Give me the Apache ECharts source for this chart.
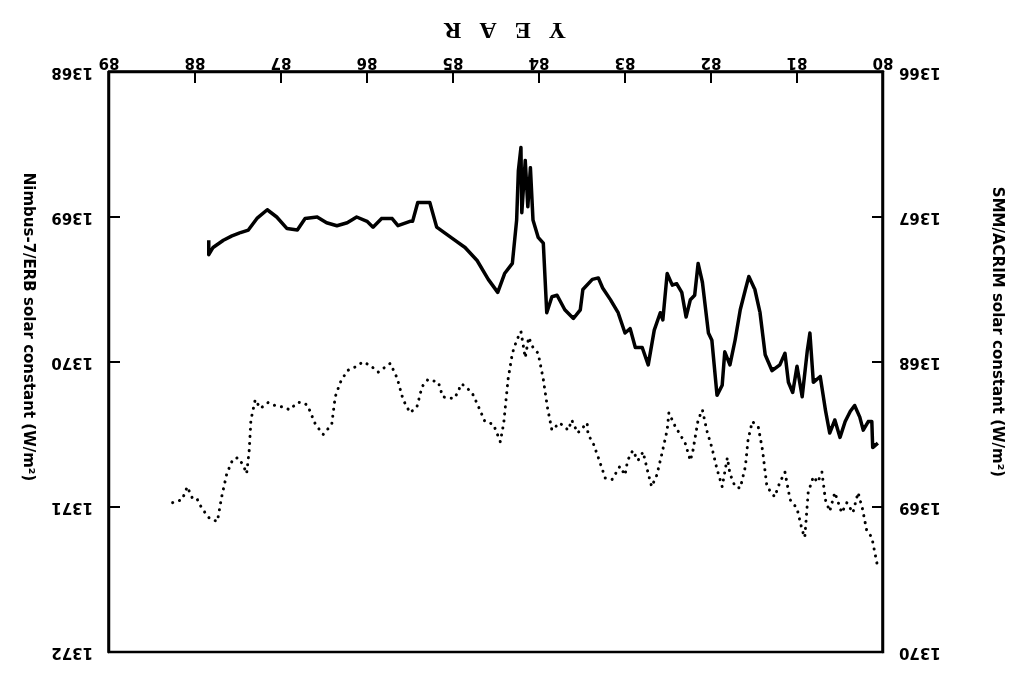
<!DOCTYPE html>
<html>
<head>
<meta charset="utf-8">
<script src="https://cdn.jsdelivr.net/npm/echarts@6/dist/echarts.min.js"></script>
<style>
html,body{margin:0;padding:0;background:#fff;}
#wrap{position:absolute;left:0;top:0;width:1026px;height:677px;transform:rotate(180deg);transform-origin:50% 50%;}
#chart{width:1026px;height:677px;}
</style>
</head>
<body>
<div id="wrap"><div id="chart"></div></div>
<script>
// SMM/ACRIM (solid line, left axis in the un-rotated chart)
const smmYears = [87.84,87.84,87.79,87.67,87.57,87.48,87.38,87.28,87.16,87.05,86.93,86.81,86.72,86.58,86.47,86.35,86.23,86.12,86.00,85.93,85.83,85.71,85.64,85.50,85.47,85.41,85.27,85.19,84.98,84.86,84.72,84.59,84.48,84.40,84.31,84.26,84.24,84.21,84.20,84.16,84.13,84.10,84.07,84.01,83.95,83.91,83.85,83.79,83.70,83.60,83.52,83.49,83.38,83.31,83.26,83.17,83.08,83.00,82.94,82.88,82.80,82.73,82.66,82.59,82.56,82.51,82.45,82.40,82.34,82.29,82.24,82.19,82.15,82.10,82.03,81.99,81.93,81.87,81.84,81.78,81.72,81.66,81.60,81.56,81.49,81.43,81.37,81.29,81.20,81.14,81.10,81.05,81.00,80.94,80.88,80.85,80.81,80.73,80.67,80.62,80.56,80.50,80.44,80.38,80.33,80.27,80.23,80.17,80.13,80.12,80.06];
const smmValues = [1367.16,1367.26,1367.21,1367.16,1367.13,1367.11,1367.09,1367.01,1366.95,1367.00,1367.08,1367.09,1367.01,1367.00,1367.04,1367.06,1367.04,1367.00,1367.03,1367.07,1367.01,1367.01,1367.06,1367.03,1367.03,1366.90,1366.90,1367.07,1367.16,1367.21,1367.30,1367.43,1367.52,1367.39,1367.32,1367.02,1366.68,1366.52,1366.97,1366.61,1366.93,1366.66,1367.02,1367.14,1367.18,1367.66,1367.55,1367.54,1367.64,1367.70,1367.64,1367.50,1367.43,1367.42,1367.49,1367.57,1367.66,1367.80,1367.77,1367.90,1367.90,1368.02,1367.78,1367.66,1367.71,1367.39,1367.47,1367.46,1367.52,1367.69,1367.57,1367.54,1367.32,1367.45,1367.80,1367.85,1368.23,1368.16,1367.93,1368.02,1367.85,1367.64,1367.50,1367.41,1367.50,1367.66,1367.95,1368.06,1368.02,1367.94,1368.14,1368.21,1368.03,1368.24,1367.92,1367.80,1368.14,1368.10,1368.33,1368.49,1368.40,1368.52,1368.41,1368.34,1368.30,1368.38,1368.47,1368.41,1368.41,1368.59,1368.56];

// Nimbus-7/ERB (dotted line, right axis in the un-rotated chart)
const nimbusYears = [88.26,88.15,88.09,88.03,87.98,87.92,87.83,87.74,87.69,87.63,87.56,87.50,87.44,87.40,87.37,87.35,87.30,87.24,87.15,87.07,86.98,86.90,86.81,86.74,86.69,86.60,86.51,86.41,86.37,86.31,86.23,86.12,86.05,85.97,85.87,85.73,85.65,85.58,85.50,85.42,85.36,85.29,85.17,85.12,85.03,84.98,84.90,84.78,84.71,84.63,84.53,84.45,84.41,84.36,84.31,84.26,84.21,84.16,84.12,84.07,84.01,83.95,83.90,83.85,83.76,83.66,83.62,83.55,83.44,83.43,83.37,83.31,83.23,83.15,83.06,83.00,82.97,82.91,82.85,82.79,82.73,82.69,82.63,82.57,82.51,82.49,82.42,82.34,82.30,82.24,82.21,82.15,82.10,82.05,81.99,81.93,81.87,81.81,81.78,81.72,81.66,81.60,81.57,81.52,81.45,81.40,81.35,81.26,81.20,81.14,81.08,81.00,80.94,80.91,80.87,80.81,80.76,80.71,80.67,80.62,80.56,80.48,80.42,80.35,80.29,80.24,80.19,80.13,80.07,80.06];
const nimbusValues = [1370.97,1370.95,1370.86,1370.94,1370.94,1371.01,1371.08,1371.10,1370.93,1370.77,1370.67,1370.66,1370.71,1370.77,1370.61,1370.40,1370.26,1370.32,1370.28,1370.30,1370.31,1370.33,1370.28,1370.28,1370.30,1370.43,1370.50,1370.43,1370.24,1370.14,1370.06,1370.03,1370.00,1370.02,1370.07,1370.01,1370.11,1370.26,1370.35,1370.31,1370.17,1370.12,1370.14,1370.24,1370.25,1370.25,1370.15,1370.21,1370.30,1370.41,1370.43,1370.55,1370.42,1370.12,1369.94,1369.85,1369.79,1369.97,1369.83,1369.90,1369.94,1370.12,1370.32,1370.47,1370.42,1370.47,1370.40,1370.49,1370.42,1370.50,1370.56,1370.66,1370.80,1370.81,1370.72,1370.78,1370.68,1370.61,1370.68,1370.62,1370.77,1370.86,1370.78,1370.63,1370.47,1370.35,1370.44,1370.52,1370.56,1370.68,1370.61,1370.40,1370.33,1370.47,1370.59,1370.74,1370.86,1370.66,1370.77,1370.86,1370.87,1370.72,1370.54,1370.41,1370.45,1370.61,1370.86,1370.93,1370.83,1370.76,1370.95,1371.01,1371.16,1371.21,1370.90,1370.79,1370.83,1370.76,1370.95,1371.03,1370.90,1371.04,1370.97,1371.04,1370.90,1371.01,1371.16,1371.21,1371.39,1371.42];

const xTitle = 'Y   E   A   R';
const leftTitle = 'SMM/ACRIM solar constant (W/m²)';
const rightTitle = 'Nimbus-7/ERB solar constant (W/m²)';

function zip(xs, ys) {
  const n = Math.min(xs.length, ys.length);
  const out = [];
  for (let i = 0; i < n; i++) out.push([xs[i], ys[i]]);
  return out;
}
const plain = v => String(Math.round(v));

const labelStyle = {color:'#000', fontFamily:'DejaVu Sans', fontWeight:'bold', fontSize:15, formatter:plain};
const nameStyle = {color:'#000', fontFamily:'DejaVu Sans', fontWeight:'bold', fontSize:15};

const chart = echarts.init(document.getElementById('chart'), null, {renderer:'canvas'});
chart.setOption({
  animation:false,
  backgroundColor:'#fff',
  grid:{left:143, right:109, top:25, bottom:72, show:true, borderColor:'#000', borderWidth:2.5, backgroundColor:'transparent'},
  xAxis:{
    type:'value', min:80, max:89, interval:1,
    axisLine:{show:true, onZero:false, lineStyle:{color:'#000', width:2.5}},
    axisTick:{show:true, inside:true, length:11, lineStyle:{color:'#000', width:2}},
    axisLabel:Object.assign({margin:3}, labelStyle),
    splitLine:{show:false},
    name:xTitle, nameLocation:'middle', nameGap:31,
    nameTextStyle:{color:'#000', fontFamily:'Liberation Serif', fontWeight:'bold', fontSize:24, padding:[0,18,0,0]}
  },
  yAxis:[{
    type:'value', min:1366, max:1370, interval:1, position:'left',
    axisLine:{show:true, onZero:false, lineStyle:{color:'#000', width:2.5}},
    axisTick:{show:true, inside:true, length:11, lineStyle:{color:'#000', width:2}},
    axisLabel:Object.assign({margin:16}, labelStyle),
    splitLine:{show:false},
    name:leftTitle, nameLocation:'middle', nameGap:106,
    nameTextStyle:Object.assign({padding:[0,60,0,0]}, nameStyle)
  },{
    type:'value', min:1368, max:1372, interval:1, position:'right',
    axisLine:{show:true, onZero:false, lineStyle:{color:'#000', width:2.5}},
    axisTick:{show:true, inside:true, length:11, lineStyle:{color:'#000', width:2}},
    axisLabel:Object.assign({margin:16}, labelStyle),
    splitLine:{show:false},
    name:rightTitle, nameLocation:'middle', nameGap:74,
    nameTextStyle:Object.assign({padding:[0,70,0,0]}, nameStyle)
  }],
  series:[{
    name:'SMM/ACRIM', type:'line', xAxisIndex:0, yAxisIndex:0,
    data:zip(smmYears, smmValues), showSymbol:false, symbol:'none',
    lineStyle:{color:'#000', width:3.5, join:'round'}
  },{
    name:'Nimbus-7/ERB', type:'line', xAxisIndex:0, yAxisIndex:1,
    data:zip(nimbusYears, nimbusValues), showSymbol:false, symbol:'none',
    lineStyle:{color:'#000', width:3, type:[0.1,7], cap:'round', join:'round'}
  }]
});
</script>
</body>
</html>
